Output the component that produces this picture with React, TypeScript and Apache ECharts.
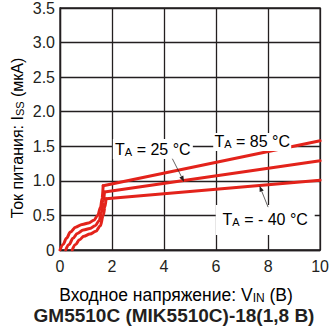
import React, { useEffect, useRef } from "react";
import * as echarts from "echarts";

// Supply current vs. input voltage for three ambient temperatures.
// Start-up part of each curve (smoothed), ending at the top of the step.
const rise85: [number, number][] = [
  [0, 0], [0.12, 0.08], [0.25, 0.17], [0.4, 0.26], [0.6, 0.33], [0.85, 0.37],
  [1.1, 0.39], [1.3, 0.43], [1.45, 0.5], [1.56, 0.62], [1.62, 0.75], [1.66, 0.93],
];
const rise25: [number, number][] = [
  [0.22, 0], [0.35, 0.08], [0.5, 0.17], [0.67, 0.24], [0.9, 0.29], [1.15, 0.31],
  [1.35, 0.35], [1.5, 0.42], [1.6, 0.55], [1.67, 0.7], [1.71, 0.84],
];
const riseM40: [number, number][] = [
  [0.47, 0], [0.6, 0.08], [0.75, 0.15], [0.92, 0.2], [1.15, 0.23], [1.38, 0.27],
  [1.55, 0.35], [1.66, 0.5], [1.73, 0.62], [1.77, 0.74],
];
// Regulated part: straight from the step to 10 V
const run85: [number, number][] = [[1.66, 0.93], [10, 1.58]];
const run25: [number, number][] = [[1.71, 0.84], [10, 1.29]];
const runM40: [number, number][] = [[1.77, 0.74], [10, 1.01]];

const xTicks = [0, 2, 4, 6, 8, 10];
const yTicks = [0, 0.5, 1.0, 1.5, 2.0, 2.5, 3.0, 3.5];

const FONT = "'Liberation Sans', Arial, Helvetica, sans-serif";
const INK = "#231f20";
const RED = "#e3231b";

export default function App() {
  const ref = useRef<HTMLDivElement>(null);

  useEffect(() => {
    if (!ref.current) return;
    document.body.style.margin = "0";
    const chart = echarts.init(ref.current, undefined, { renderer: "svg" });

    const lineSeries = (data: [number, number][], smooth: number | boolean) => ({
      type: "line",
      data,
      symbol: "none",
      smooth,
      smoothMonotone: "x",
      lineStyle: { color: RED, width: 3, cap: "round", join: "round" },
      z: 3,
    });

    chart.setOption({
      animation: false,
      grid: { left: 60, right: 6, top: 8, bottom: 83, show: true, borderColor: INK, borderWidth: 1.3 },
      xAxis: {
        type: "value",
        min: xTicks[0],
        max: xTicks[xTicks.length - 1],
        interval: 2,
        axisLine: { show: true, lineStyle: { color: INK, width: 1.3 } },
        axisTick: { show: false },
        axisLabel: { color: INK, fontSize: 16, fontFamily: FONT, margin: 8 },
        splitLine: { show: true, lineStyle: { color: INK, width: 1.3 } },
      },
      yAxis: {
        type: "value",
        min: yTicks[0],
        max: yTicks[yTicks.length - 1],
        interval: 0.5,
        axisLine: { show: true, lineStyle: { color: INK, width: 1.3 } },
        axisTick: { show: false },
        axisLabel: {
          color: INK,
          fontSize: 16,
          fontFamily: FONT,
          margin: 5,
          formatter: (v: number) => (v === 0 ? "0" : v.toFixed(1)),
        },
        splitLine: { show: true, lineStyle: { color: INK, width: 1.3 } },
      },
      series: [
        lineSeries(rise85, 0.35),
        lineSeries(rise25, 0.35),
        lineSeries(riseM40, 0.35),
        lineSeries(run85, false),
        lineSeries(run25, false),
        lineSeries(runM40, false),
      ],
    });

    const px = (p: [number, number]) => chart.convertToPixel({ gridIndex: 0 }, p) as number[];

    const rich = (size: number, sub: number) => ({
      n: { fontSize: size, fontFamily: FONT, color: INK, lineHeight: size },
      s: { fontSize: sub, fontFamily: FONT, color: INK, lineHeight: sub - 1, verticalAlign: "bottom" },
    });

    // temperature labels, each on a white plate
    const labels = [
      { text: "{n|T}{s|A}{n| = 25 °C}", at: [3.57, 1.46] as [number, number], w: 80, h: 20 },
      { text: "{n|T}{s|A}{n| = 85 °C}", at: [7.39, 1.562] as [number, number], w: 78, h: 18 },
      { text: "{n|T}{s|A}{n| = - 40 °C}", at: [7.89, 0.434] as [number, number], w: 99, h: 30 },
    ];
    const arrows = [
      { from: [4.32, 1.32] as [number, number], to: [4.77, 0.985] as [number, number] },
      { from: [8.0, 0.62] as [number, number], to: [7.67, 0.93] as [number, number] },
    ];

    const graphic: any[] = [];
    labels.forEach((l) => {
      const [cx, cy] = px(l.at);
      graphic.push({
        type: "rect",
        z: 50,
        shape: { x: cx - l.w / 2, y: cy - l.h / 2, width: l.w, height: l.h },
        style: { fill: "#fff" },
      });
      graphic.push({
        type: "text",
        z: 51,
        x: cx,
        y: cy,
        style: { text: l.text, rich: rich(16, 11), align: "center", verticalAlign: "middle" },
      });
    });
    arrows.forEach((a) => {
      const [x1, y1] = px(a.from);
      const [x2, y2] = px(a.to);
      const ang = Math.atan2(y2 - y1, x2 - x1);
      const len = 6;
      const half = 2.2;
      const bx = x2 - len * Math.cos(ang);
      const by = y2 - len * Math.sin(ang);
      graphic.push({
        type: "line",
        z: 52,
        shape: { x1, y1, x2: bx, y2: by },
        style: { stroke: INK, lineWidth: 0.7 },
      });
      graphic.push({
        type: "polygon",
        z: 52,
        shape: {
          points: [
            [x2, y2],
            [bx + half * Math.sin(ang), by - half * Math.cos(ang)],
            [bx - half * Math.sin(ang), by + half * Math.cos(ang)],
          ],
        },
        style: { fill: INK },
      });
    });

    // axis titles
    graphic.push({
      type: "text",
      z: 51,
      x: 17,
      y: 138,
      rotation: Math.PI / 2,
      style: {
        text: "{n|Ток питания: I}{s|SS}{n| (мкА)}",
        rich: rich(16, 11),
        align: "center",
        verticalAlign: "middle",
      },
    });
    graphic.push({
      type: "text",
      z: 51,
      x: 176,
      y: 295,
      style: {
        text: "{n|Входное напряжение: V}{s|IN}{n| (В)}",
        rich: rich(17.5, 12),
        align: "center",
        verticalAlign: "middle",
      },
    });
    graphic.push({
      type: "text",
      z: 51,
      x: 174,
      y: 315,
      style: {
        text: "GM5510C (MIK5510C)-18(1,8 В)",
        fontSize: 19,
        lineHeight: 18,
        fontWeight: "bold",
        fontFamily: FONT,
        fill: INK,
        align: "center",
        verticalAlign: "middle",
      },
    });

    chart.setOption({ graphic });

    return () => chart.dispose();
  }, []);

  return <div ref={ref} style={{ width: 332, height: 333 }} />;
}
